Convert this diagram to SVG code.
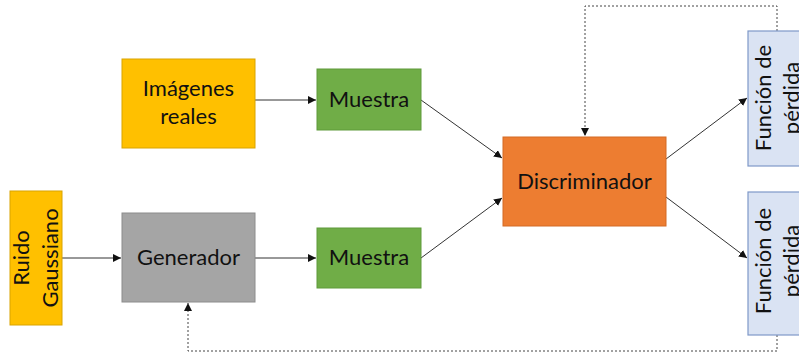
<svg xmlns="http://www.w3.org/2000/svg" width="799" height="356" viewBox="0 0 799 356">
<defs>
<style>
.t{font-family:Lato,"Open Sans","Liberation Sans",sans-serif;font-size:22px;fill:#111;text-anchor:middle}
.yel{fill:#FFC000;stroke:#D9A400;stroke-width:1}
.grn{fill:#70AD47;stroke:#5E9A3A;stroke-width:1}
.gry{fill:#A5A5A5;stroke:#8C8C8C;stroke-width:1}
.org{fill:#ED7D31;stroke:#D36B24;stroke-width:1}
.blu{fill:#DAE3F3;stroke:#7F98C8;stroke-width:1.2}
.ln{fill:none;stroke:#333;stroke-width:1}
.dash{fill:none;stroke:#444;stroke-width:1;stroke-dasharray:2,2}
</style>
<marker id="ah" viewBox="0 0 10 10" refX="10" refY="5" markerWidth="8" markerHeight="8" markerUnits="userSpaceOnUse" orient="auto">
<path d="M0,0 L10,5 L0,10 z" fill="#111"/>
</marker>
</defs>
<g id="connectors">
<path class="ln" d="M62,258 H121" marker-end="url(#ah)"/>
<path class="ln" d="M255,258 H316" marker-end="url(#ah)"/>
<path class="ln" d="M255,100 H316" marker-end="url(#ah)"/>
<path class="ln" d="M421,100 L502,158" marker-end="url(#ah)"/>
<path class="ln" d="M421,258 L502,198" marker-end="url(#ah)"/>
<path class="ln" d="M666,159 L747,98" marker-end="url(#ah)"/>
<path class="ln" d="M666,197 L747,258" marker-end="url(#ah)"/>
<path class="dash" d="M777,31 V6 H585 V136" marker-end="url(#ah)"/>
<path class="dash" d="M777,335 V351 H188 V303" marker-end="url(#ah)"/>
</g>
<g id="ruido">
<rect class="yel" x="10" y="191" width="52" height="134"/>
<g transform="translate(36,258) rotate(-90)">
<text class="t" x="0" y="-7">Ruido</text>
<text class="t" x="0" y="22">Gaussiano</text>
</g>
</g>
<g id="imagenes">
<rect class="yel" x="122" y="59" width="133" height="89"/>
<text class="t" x="188.5" y="96">Imágenes</text>
<text class="t" x="188.5" y="124">reales</text>
</g>
<g id="generador">
<rect class="gry" x="122" y="213" width="133" height="89"/>
<text class="t" x="188.5" y="265">Generador</text>
</g>
<g id="muestra1">
<rect class="grn" x="317" y="69" width="104" height="61"/>
<text class="t" x="369" y="107">Muestra</text>
</g>
<g id="muestra2">
<rect class="grn" x="317" y="228" width="104" height="60"/>
<text class="t" x="369" y="265">Muestra</text>
</g>
<g id="discriminador">
<rect class="org" x="503" y="137" width="163" height="89"/>
<text class="t" x="584.5" y="189">Discriminador</text>
</g>
<g id="perdida1">
<rect class="blu" x="748" y="31" width="60" height="135"/>
<g transform="translate(777,98) rotate(-90)">
<text class="t" x="0" y="-6">Función de</text>
<text class="t" x="0" y="22">pérdida</text>
</g>
</g>
<g id="perdida2">
<rect class="blu" x="748" y="192" width="60" height="143"/>
<g transform="translate(777,261) rotate(-90)">
<text class="t" x="0" y="-6">Función de</text>
<text class="t" x="0" y="22">pérdida</text>
</g>
</g>
</svg>
